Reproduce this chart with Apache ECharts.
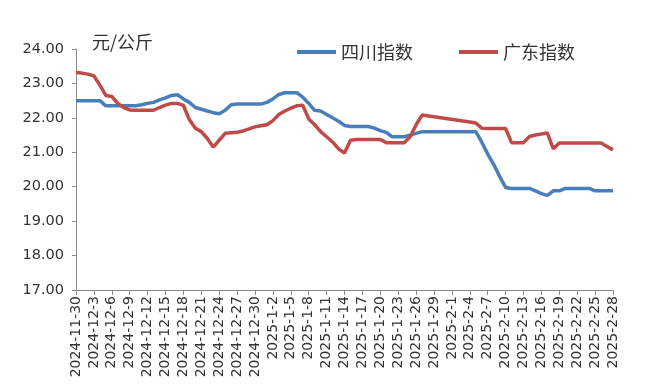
<!DOCTYPE html>
<html>
<head>
<meta charset="utf-8">
<script src="https://cdn.jsdelivr.net/npm/echarts@6/dist/echarts.min.js"></script>
<style>html,body{margin:0;padding:0;background:#fff;}#c{width:651px;height:385px;}</style>
</head>
<body>
<div id="c"></div>
<script>
var dates = [
"2024-11-30",
"2024-12-1","2024-12-2","2024-12-3","2024-12-4","2024-12-5","2024-12-6","2024-12-7","2024-12-8","2024-12-9","2024-12-10",
"2024-12-11","2024-12-12","2024-12-13","2024-12-14","2024-12-15","2024-12-16","2024-12-17","2024-12-18","2024-12-19","2024-12-20",
"2024-12-21","2024-12-22","2024-12-23","2024-12-24","2024-12-25","2024-12-26","2024-12-27","2024-12-28","2024-12-29","2024-12-30","2024-12-31",
"2025-1-1","2025-1-2","2025-1-3","2025-1-4","2025-1-5","2025-1-6","2025-1-7","2025-1-8","2025-1-9","2025-1-10",
"2025-1-11","2025-1-12","2025-1-13","2025-1-14","2025-1-15","2025-1-16","2025-1-17","2025-1-18","2025-1-19","2025-1-20",
"2025-1-21","2025-1-22","2025-1-23","2025-1-24","2025-1-25","2025-1-26","2025-1-27","2025-1-28","2025-1-29","2025-1-30","2025-1-31",
"2025-2-1","2025-2-2","2025-2-3","2025-2-4","2025-2-5","2025-2-6","2025-2-7","2025-2-8","2025-2-9","2025-2-10",
"2025-2-11","2025-2-12","2025-2-13","2025-2-14","2025-2-15","2025-2-16","2025-2-17","2025-2-18","2025-2-19","2025-2-20",
"2025-2-21","2025-2-22","2025-2-23","2025-2-24","2025-2-25","2025-2-26","2025-2-27","2025-2-28"
];
var sichuan = [
22.5,22.5,22.5,22.5,22.5,
22.35,22.35,22.35,22.35,22.35,22.35,
22.38,22.42,22.45,22.52,22.58,22.65,22.67,22.55,22.45,22.3,22.25,22.2,22.15,22.12,22.22,22.38,
22.4,22.4,22.4,22.4,22.4,
22.45,22.55,22.68,22.73,22.73,22.73,22.6,22.42,22.22,22.2,22.1,22.0,21.9,21.78,
21.75,21.75,21.75,21.75,
21.7,21.63,21.58,21.45,21.45,21.45,21.5,21.55,21.6,
null,null,null,null,null,null,null,
21.6,21.6,21.3,20.95,20.65,20.3,19.98,
19.95,19.95,19.95,19.95,
19.88,19.8,19.75,19.88,19.88,
19.95,19.95,19.95,19.95,19.95,
19.88,19.88,19.88,19.88
];
var guangdong = [
23.32,23.3,23.27,23.22,22.95,22.65,22.62,22.42,22.3,22.23,
22.22,22.22,22.22,22.22,
22.3,22.37,22.42,22.42,22.36,21.95,21.7,21.6,21.4,21.15,21.35,21.55,21.57,21.58,21.62,21.68,21.74,21.77,21.8,21.92,22.1,22.2,22.28,22.35,22.37,21.97,21.8,21.6,21.45,21.3,21.1,20.98,21.35,
21.37,21.37,21.37,21.37,21.37,
21.28,21.28,21.28,21.28,
21.45,21.8,22.08,
null,null,null,null,null,null,null,
21.88,21.85,21.7,
21.69,21.69,21.69,21.69,
21.28,21.28,21.28,
21.46,21.5,21.53,21.56,21.1,21.27,
21.27,21.27,21.27,21.27,21.27,21.27,21.27,
21.17,21.07
];
var seriesNames = ["四川指数", "广东指数"];
var yTicks = {min: 17, max: 24, interval: 1};
var unitLabel = "元/公斤";

var chart = echarts.init(document.getElementById('c'), null, {renderer: 'canvas'});
var axisGrey = '#8c8c8c';
var textColor = '#333333';
chart.setOption({
  animation: false,
  backgroundColor: '#fff',
  title: {
    text: unitLabel, left: 87, top: 28,
    textStyle: {fontFamily: 'Noto Sans CJK SC', fontSize: 18, fontWeight: 'normal', color: textColor}
  },
  legend: {
    data: seriesNames, left: 292, top: 38,
    icon: 'rect', itemWidth: 39, itemHeight: 4, itemGap: 46,
    textStyle: {fontFamily: 'Noto Sans CJK SC', fontSize: 18, color: textColor}
  },
  grid: {left: 76, right: 38, top: 49, bottom: 95, containLabel: false},
  xAxis: {
    type: 'category', data: dates, boundaryGap: false,
    axisLine: {lineStyle: {color: axisGrey, width: 1}},
    axisTick: {show: true, interval: 2, length: 5, lineStyle: {color: axisGrey}},
    axisLabel: {interval: 2, rotate: 90, margin: 6, fontFamily: 'DejaVu Sans', fontSize: 14, color: textColor},
    splitLine: {show: false}
  },
  yAxis: {
    type: 'value', min: yTicks.min, max: yTicks.max, interval: yTicks.interval,
    axisLine: {show: true, lineStyle: {color: axisGrey, width: 1}},
    axisTick: {show: true, length: 4, lineStyle: {color: axisGrey}},
    axisLabel: {margin: 12, fontFamily: 'DejaVu Sans', fontSize: 14.5, color: textColor,
      formatter: function (v) { return v.toFixed(2); }},
    splitLine: {show: false}
  },
  series: [
    {name: seriesNames[0], type: 'line', data: sichuan, connectNulls: true, showSymbol: false, symbol: 'none',
     lineStyle: {color: '#4a7ebb', width: 3.5}, itemStyle: {color: '#4a7ebb'}},
    {name: seriesNames[1], type: 'line', data: guangdong, connectNulls: true, showSymbol: false, symbol: 'none',
     lineStyle: {color: '#be4b48', width: 3.5}, itemStyle: {color: '#be4b48'}}
  ]
});
</script>
</body>
</html>
